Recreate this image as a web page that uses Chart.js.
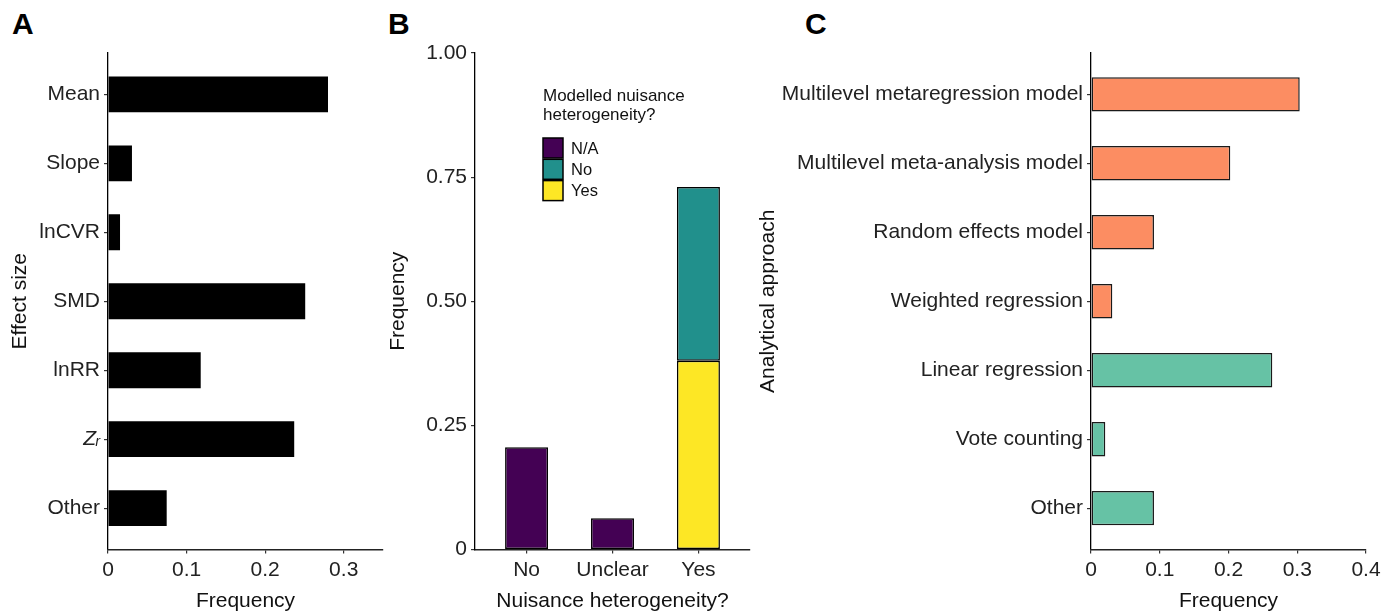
<!DOCTYPE html>
<html>
<head>
<meta charset="utf-8">
<script src="https://cdn.jsdelivr.net/npm/chart.js@4.4.1/dist/chart.umd.min.js"></script>
<style>
  body { margin: 0; background: #fff; width: 1395px; height: 616px; position: relative; overflow: hidden;
         font-family: 'Liberation Sans', Arial, sans-serif; }
  .panel { position: absolute; top: 0; }
  .tag { position: absolute; top: 9px; font-size: 30px; line-height: 30px; font-weight: bold; color: #000; }
</style>
</head>
<body>
<div class="tag" style="left:12px">A</div>
<div class="tag" style="left:388px">B</div>
<div class="tag" style="left:805px">C</div>
<canvas id="chartA" class="panel" style="left:0px" width="390" height="616"></canvas>
<canvas id="chartB" class="panel" style="left:380px" width="380" height="616"></canvas>
<canvas id="chartC" class="panel" style="left:750px" width="645" height="616"></canvas>
<script>
// panel A - effect sizes
const effectLabels = ['Mean', 'Slope', 'lnCVR', 'SMD', 'lnRR', 'Zᵣ', 'Other'];
const effectFreq = [0.280, 0.0305, 0.0153, 0.251, 0.118, 0.237, 0.0747];
const effectTicks = [0, 0.1, 0.2, 0.3];
const effectTickLabels = ['0', '0.1', '0.2', '0.3'];

// panel B - nuisance heterogeneity (stacked)
const nuisanceLabels = ['No', 'Unclear', 'Yes'];
const modelledNA = [0.206, 0.063, null];
const modelledNo = [null, null, 0.350];
const modelledYes = [null, null, 0.380];
const nuisanceTicks = [0, 0.25, 0.5, 0.75, 1];
const nuisanceTickLabels = ['0', '0.25', '0.50', '0.75', '1.00'];
const legendTitle = ['Modelled nuisance', 'heterogeneity?'];

// panel C - analytical approach
const approachLabels = ['Multilevel metaregression model', 'Multilevel meta-analysis model',
  'Random effects model', 'Weighted regression', 'Linear regression', 'Vote counting', 'Other'];
const approachFreq = [0.3036, 0.2026, 0.0916, 0.031, 0.2637, 0.0208, 0.0916];
const approachWeighted = [true, true, true, true, false, false, false];
const approachTicks = [0, 0.1, 0.2, 0.3, 0.4];
const approachTickLabels = ['0', '0.1', '0.2', '0.3', '0.4'];

const FONT = "'Liberation Sans', Arial, sans-serif";
Chart.defaults.font.family = FONT;
Chart.defaults.animation = false;

const tickFont = { family: FONT, size: 21 };
const titleFont = { family: FONT, size: 21, lineHeight: 1 };
const TICK_COL = '#222';
const TITLE_COL = '#111';

// ggplot style discrete axis: 0.6 of a category as room at each end
function padCategory(scale) {
  scale._startValue = -0.6;
  scale._valueRange = scale.getLabels().length - 1 + 1.2;
}
function fixedTicks(values) {
  return scale => { scale.ticks = values.map(v => ({ value: v })); };
}

function catAxis(extra) {
  return Object.assign({
    type: 'category',
    offset: true,
    afterBuildTicks: padCategory,
    grid: { drawOnChartArea: false, drawTicks: true, tickLength: 4, offset: false, color: '#333', lineWidth: 1.2 },
    border: { display: true, color: '#000', width: 1.3 },
    ticks: { font: tickFont, color: TICK_COL, padding: 4, autoSkip: false, maxRotation: 0 }
  }, extra);
}
function valueAxis(extra, ticks, labels) {
  return Object.assign({
    type: 'linear',
    afterBuildTicks: fixedTicks(ticks),
    grid: { drawOnChartArea: false, drawTicks: true, tickLength: 4, color: '#333', lineWidth: 1.2 },
    border: { display: true, color: '#222', width: 1.6 },
    ticks: { font: tickFont, color: TICK_COL, padding: 4, maxRotation: 0,
             callback: v => labels[ticks.indexOf(v)] }
  }, extra);
}

const basePlugins = { legend: { display: false }, tooltip: { enabled: false } };

// ---------------- A ----------------
new Chart(document.getElementById('chartA'), {
  type: 'bar',
  data: {
    labels: effectLabels,
    datasets: [{ data: effectFreq, backgroundColor: '#000', borderWidth: 0,
                 barPercentage: 0.52, categoryPercentage: 1 }]
  },
  options: {
    responsive: false,
    indexAxis: 'y',
    layout: { padding: { top: 53, right: 7, left: 0, bottom: 0 } },
    plugins: basePlugins,
    scales: {
      y: catAxis({
        ticks: { color: TICK_COL, padding: 4, autoSkip: false,
                 font: c => ({ family: FONT, size: 21, style: c.tick && c.tick.label === 'Zᵣ' ? 'italic' : 'normal' }) },
        title: { display: true, text: 'Effect size', font: titleFont, color: TITLE_COL, padding: { top: 9.5, bottom: 0 } },
        afterFit: s => { s.width = 108; }
      }),
      x: valueAxis({
        min: 0, max: 0.35,
        title: { display: true, text: 'Frequency', font: titleFont, color: TITLE_COL, padding: { top: 0, bottom: 4.5 } },
        afterFit: s => { s.height = 66.5; }
      }, effectTicks, effectTickLabels)
    }
  }
});

// ---------------- B ----------------
const nuisanceLegend = {
  id: 'nuisanceLegend',
  afterDraw(chart) {
    const ctx = chart.ctx;
    const x0 = 163, y0 = 138, key = 20, step = 21.3;
    ctx.save();
    ctx.textBaseline = 'middle';
    ctx.textAlign = 'left';
    ctx.fillStyle = TITLE_COL;
    ctx.font = '17px ' + FONT;
    legendTitle.forEach((line, i) => ctx.fillText(line, x0, 96 + i * 19.5));
    ctx.font = '16.5px ' + FONT;
    chart.data.datasets.slice().reverse().forEach((ds, i) => {
      const y = y0 + i * step;
      ctx.fillStyle = ds.backgroundColor;
      ctx.fillRect(x0, y, key, key);
      ctx.strokeStyle = '#000';
      ctx.lineWidth = 1.5;
      ctx.strokeRect(x0, y, key, key);
      ctx.fillStyle = TITLE_COL;
      ctx.fillText(ds.label, x0 + key + 8, y + key / 2 + 1);
    });
    ctx.restore();
  }
};

const stackStyle = { borderColor: '#000', borderWidth: 1.5, borderSkipped: false,
                     barPercentage: 0.5, categoryPercentage: 1 };
new Chart(document.getElementById('chartB'), {
  type: 'bar',
  data: {
    labels: nuisanceLabels,
    datasets: [
      Object.assign({ label: 'Yes', data: modelledYes, backgroundColor: '#FDE725' }, stackStyle),
      Object.assign({ label: 'No', data: modelledNo, backgroundColor: '#21908C' }, stackStyle),
      Object.assign({ label: 'N/A', data: modelledNA, backgroundColor: '#440154' }, stackStyle)
    ]
  },
  options: {
    responsive: false,
    layout: { padding: { top: 53, right: 10, left: 0, bottom: 0 } },
    plugins: basePlugins,
    scales: {
      x: catAxis({
        stacked: true,
        border: { display: true, color: '#222', width: 1.6 },
        title: { display: true, text: 'Nuisance heterogeneity?', font: titleFont, color: TITLE_COL, padding: { top: 0, bottom: 4.5 } },
        afterFit: s => { s.height = 66.5; }
      }),
      y: valueAxis({
        min: 0, max: 1, stacked: true,
        border: { display: true, color: '#000', width: 1.3 },
        title: { display: true, text: 'Frequency', font: titleFont, color: TITLE_COL, padding: { top: 8, bottom: 0 } },
        afterFit: s => { s.width = 95; }
      }, nuisanceTicks, nuisanceTickLabels)
    }
  },
  plugins: [nuisanceLegend]
});

// ---------------- C ----------------
new Chart(document.getElementById('chartC'), {
  type: 'bar',
  data: {
    labels: approachLabels,
    datasets: [{
      data: approachFreq,
      backgroundColor: approachWeighted.map(w => w ? '#FC8D62' : '#66C2A5'),
      borderColor: '#1a1a1a', borderWidth: 1.5, borderSkipped: false,
      barPercentage: 0.5, categoryPercentage: 1
    }]
  },
  options: {
    responsive: false,
    indexAxis: 'y',
    layout: { padding: { top: 53, right: 29, left: 0, bottom: 0 } },
    plugins: basePlugins,
    scales: {
      y: catAxis({
        title: { display: true, text: 'Analytical approach', font: titleFont, color: TITLE_COL, padding: { top: 7.5, bottom: 0 } },
        afterFit: s => { s.width = 341; }
      }),
      x: valueAxis({
        min: 0, max: 0.4,
        title: { display: true, text: 'Frequency', font: titleFont, color: TITLE_COL, padding: { top: 0, bottom: 4.5 } },
        afterFit: s => { s.height = 66.5; }
      }, approachTicks, approachTickLabels)
    }
  }
});
</script>
</body>
</html>
